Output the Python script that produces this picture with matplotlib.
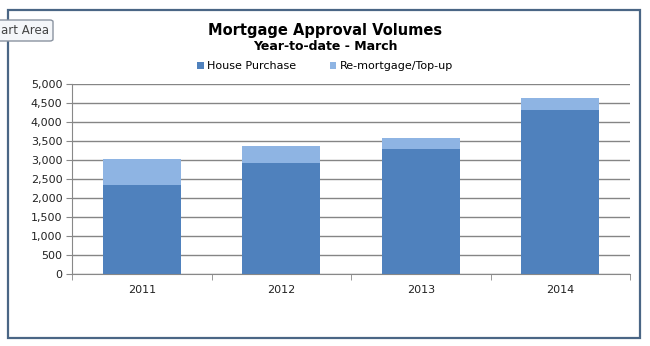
import matplotlib.pyplot as plt
from matplotlib.patches import Rectangle, FancyBboxPatch
import numpy as np

# Data
years = ["2011", "2012", "2013", "2014"]
house_purchase = [2350, 2920, 3290, 4310]
remortgage = [680, 450, 300, 330]
yticks = [0, 500, 1000, 1500, 2000, 2500, 3000, 3500, 4000, 4500, 5000]

house_color = "#4F81BD"
remort_color = "#8EB4E3"


def main():
    fig = plt.figure(figsize=(6.5, 3.46), dpi=100)
    fig.patch.set_facecolor("white")

    # Chart area border
    fig.patches.append(Rectangle((8 / 650, 1 - 338 / 346), 632 / 650, 328 / 346,
                                 transform=fig.transFigure, fill=False,
                                 edgecolor="#4A6685", linewidth=1.6))

    ax = fig.add_axes([72 / 650, 1 - 274 / 346, 558 / 650, 190 / 346])
    x = np.arange(len(years))
    ax.bar(x, house_purchase, width=0.56, color=house_color, label="House Purchase", zorder=3)
    ax.bar(x, remortgage, width=0.56, bottom=house_purchase, color=remort_color,
           label="Re-mortgage/Top-up", zorder=3)

    ax.set_xlim(-0.5, len(years) - 0.5)
    ax.set_ylim(0, 5000)
    ax.set_yticks(yticks)
    ax.set_yticklabels([f"{v:,}" for v in yticks], fontsize=8, color="#222222")
    ax.set_xticks(x)
    ax.set_xticklabels(years, fontsize=8, color="#222222")
    ax.set_xticks(np.arange(-0.5, len(years)), minor=True)
    ax.tick_params(axis="x", which="major", length=0, pad=8)
    ax.tick_params(axis="x", which="minor", length=4, color="#888888")
    ax.tick_params(axis="y", length=4, color="#888888", pad=3)
    ax.grid(axis="y", color="#858585", linewidth=1.0, zorder=0)
    for s in ["top", "right"]:
        ax.spines[s].set_visible(False)
    ax.spines["left"].set_color("#888888")
    ax.spines["bottom"].set_color("#888888")

    # Titles
    fig.text(0.5, 1 - 30 / 346, "Mortgage Approval Volumes", ha="center", va="center",
             fontsize=10.5, fontweight="bold")
    fig.text(0.5, 1 - 46 / 346, "Year-to-date - March", ha="center", va="center",
             fontsize=9, fontweight="bold")

    fig.legend(loc="center", bbox_to_anchor=(0.5, 1 - 66 / 346), ncol=2, frameon=False,
               fontsize=8, handlelength=0.6, handleheight=0.6, columnspacing=3.0,
               handletextpad=0.3)

    # "Chart Area" tooltip
    fig.patches.append(FancyBboxPatch((-10 / 650, 1 - 41 / 346), 63 / 650, 21 / 346,
                                      boxstyle="round,pad=0,rounding_size=0.005",
                                      transform=fig.transFigure, facecolor="#F4F6F9",
                                      edgecolor="#8A93A0", linewidth=1))
    fig.text(1 / 650, 1 - 30.5 / 346, "art Area", ha="left", va="center", fontsize=8.5,
             color="#444444")

    plt.savefig("out.png", dpi=100)


if __name__ == "__main__":
    main()
